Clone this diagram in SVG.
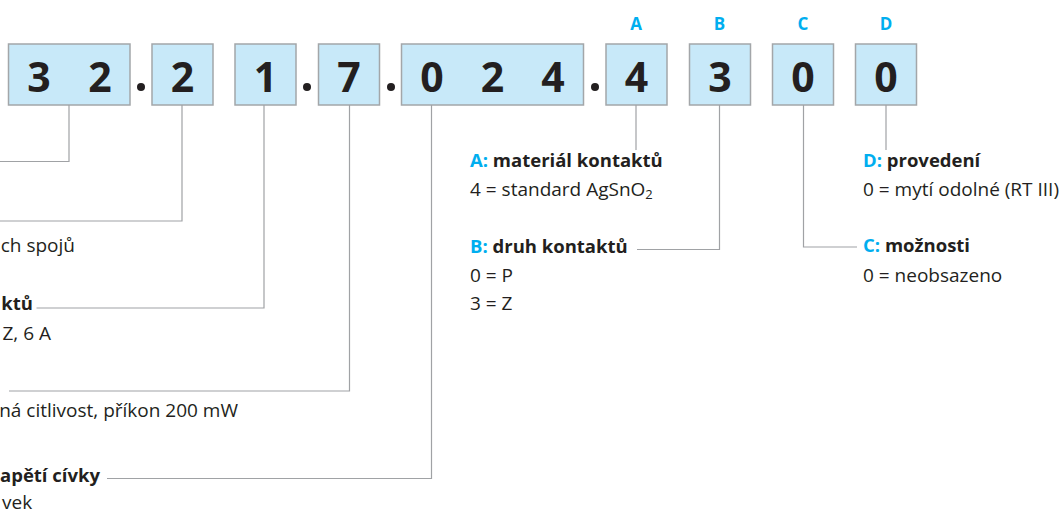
<svg xmlns="http://www.w3.org/2000/svg" width="1062" height="513" viewBox="0 0 1062 513">
<style>
.box{fill:#C8E9F9;stroke:#A3A6A9;stroke-width:1.5}
.dig{font-family:"Open Sans",sans-serif;font-weight:700;font-size:41px;fill:#231F20;text-anchor:middle}
.let{font-family:"Open Sans",sans-serif;font-weight:700;font-size:17px;fill:#00AEEF;text-anchor:middle}
.dot{fill:#231F20}
.ln{fill:none;stroke:#A0A2A5;stroke-width:1.2}
.t{font-family:"Open Sans",sans-serif;font-size:19px;fill:#231F20}
.b{font-weight:700;font-size:18.5px}
.bl{fill:#00AEEF}
.e{text-anchor:end}
</style>
<rect width="1062" height="513" fill="#FFFFFF"/>
<g id="letters">
<text class="let" x="636" y="30">A</text>
<text class="let" x="719.5" y="30">B</text>
<text class="let" x="803" y="30">C</text>
<text class="let" x="886" y="30">D</text>
</g>
<g id="box-32"><rect class="box" x="8.5" y="44" width="121.5" height="61"/><text class="dig" x="39" y="92">3</text><text class="dig" x="100" y="92">2</text></g>
<g id="box-2"><rect class="box" x="152" y="44" width="61" height="61"/><text class="dig" x="182.5" y="92">2</text></g>
<g id="box-1"><rect class="box" x="235" y="44" width="61" height="61"/><text class="dig" x="265.5" y="92">1</text></g>
<g id="box-7"><rect class="box" x="318.5" y="44" width="61" height="61"/><text class="dig" x="349" y="92">7</text></g>
<g id="box-024"><rect class="box" x="401.5" y="44" width="182" height="61"/><text class="dig" x="432" y="92">0</text><text class="dig" x="492.5" y="92">2</text><text class="dig" x="553" y="92">4</text></g>
<g id="box-A"><rect class="box" x="606" y="44" width="61" height="61"/><text class="dig" x="636.5" y="92">4</text></g>
<g id="box-B"><rect class="box" x="689.5" y="44" width="61" height="61"/><text class="dig" x="720" y="92">3</text></g>
<g id="box-C"><rect class="box" x="772.5" y="44" width="61" height="61"/><text class="dig" x="803" y="92">0</text></g>
<g id="box-D"><rect class="box" x="855.5" y="44" width="61" height="61"/><text class="dig" x="886" y="92">0</text></g>
<g id="dots">
<circle class="dot" cx="141" cy="87" r="4"/>
<circle class="dot" cx="307" cy="87" r="4"/>
<circle class="dot" cx="391" cy="87" r="4"/>
<circle class="dot" cx="595" cy="87" r="4"/>
</g>
<g id="connectors">
<path class="ln" d="M69,105 V161.5 H0"/>
<path class="ln" d="M182,105 V221 H0"/>
<path class="ln" d="M264,105 V308 H36.5"/>
<path class="ln" d="M349.5,105 V391 H9"/>
<path class="ln" d="M431.5,105 V478.5 H107"/>
<path class="ln" d="M636,105 V150"/>
<path class="ln" d="M719.5,105 V249.5 H637"/>
<path class="ln" d="M803.5,105 V247 H857"/>
<path class="ln" d="M886,105 V150"/>
</g>
<g id="left-labels">
<text class="t e" x="75" y="251.7">ch spojů</text>
<text class="t b e" x="33" y="310">ktů</text>
<text class="t e" x="51" y="340">Z, 6 A</text>
<text class="t e" x="238" y="416.7">ná citlivost, příkon 200 mW</text>
<text class="t b e" x="100" y="481.7">apětí cívky</text>
<text class="t" x="2" y="508.5">vek</text>
</g>
<g id="label-A">
<text class="t b" x="470" y="166.7"><tspan class="bl">A:</tspan> materiál kontaktů</text>
<text class="t" x="470" y="196">4 = standard AgSnO<tspan font-size="13" dy="3">2</tspan></text>
</g>
<g id="label-B">
<text class="t b" x="470" y="253.3"><tspan class="bl">B:</tspan> druh kontaktů</text>
<text class="t" x="470" y="281.7">0 = P</text>
<text class="t" x="470" y="310">3 = Z</text>
</g>
<g id="label-D">
<text class="t b" x="863" y="166.7"><tspan class="bl">D:</tspan> provedení</text>
<text class="t" x="863" y="196">0 = mytí odolné (RT III)</text>
</g>
<g id="label-C">
<text class="t b" x="863" y="251.7"><tspan class="bl">C:</tspan> možnosti</text>
<text class="t" x="863" y="281.7">0 = neobsazeno</text>
</g>
</svg>
